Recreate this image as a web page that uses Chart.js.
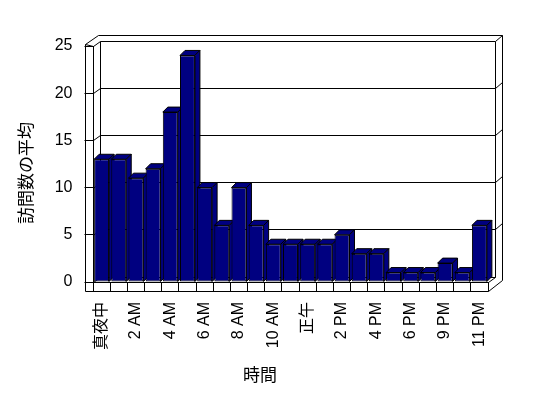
<!DOCTYPE html>
<html><head><meta charset="utf-8">
<script src="https://cdn.jsdelivr.net/npm/chart.js@4/dist/chart.umd.min.js"></script>
<style>html,body{margin:0;padding:0;background:#fff}canvas{display:block}</style>
</head><body>
<canvas id="c" width="548" height="398"></canvas>
<script>
const hours = ['真夜中','1 AM','2 AM','3 AM','4 AM','5 AM','6 AM','7 AM','8 AM','9 AM','10 AM','11 AM','正午','1 PM','2 PM','3 PM','4 PM','5 PM','6 PM','7 PM','9 PM','10 PM','11 PM'];
const visits = [13,13,11,12,18,24,10,6,10,6,4,4,4,4,5,3,3,1,1,1,2,1,6];
const yTicks = [0,5,10,15,20,25];
const xTitle = '時間';
const yTitle = '訪問数の平均';

const FONT = '"Liberation Sans", "Noto Sans CJK JP", sans-serif';
const NAVY = '#000080';

const frame3d = {
  id: 'frame3d',
  beforeDatasetsDraw(chart) {
    const ctx = chart.ctx, ys = chart.scales.y, a = chart.chartArea;
    const L = a.left, R = a.right;
    const B = ys.getPixelForValue(yTicks[0]);
    const T = ys.getPixelForValue(yTicks[yTicks.length - 1]);
    const d1x = 6.5, d1y = -5.5, d2x = 13.5, d2y = -11.5, W = 8.5, F = 9;
    const p = v => Math.round(v) + 0.5;
    ctx.save();
    ctx.strokeStyle = '#000'; ctx.lineWidth = 1;
    const line = (x1, y1, x2, y2) => { ctx.beginPath(); ctx.moveTo(p(x1), p(y1)); ctx.lineTo(p(x2), p(y2)); ctx.stroke(); };
    // left wall
    line(L - W, T - 2, L - W, B + F);
    line(L - W, T - 2, L, T);
    line(L - W, T - 2, L - W + d2x, T + d2y);
    line(L, T, L + d1x, T + d1y);
    // back wall
    line(L - W + d2x, T + d2y, R + d2x, T + d2y);
    line(L + d1x, T + d1y, R + d1x, T + d1y);
    line(L + d1x, T + d1y, L + d1x, B + d1y);
    line(R + d1x, T + d1y, R + d1x, B + d1y);
    line(R + d2x, T + d2y, R + d2x, B + F + d2y);
    line(R + d1x, T + d1y, R + d2x, T + d2y);
    // floor
    line(L - W, B + F, R, B + F);
    line(R, B, R, B + F);
    line(R, B, R + d1x, B + d1y);
    line(R, B + F, R + d2x, B + F + d2y);
    line(L + d1x, B + d1y, R + d1x, B + d1y);
    line(L, B, L + d1x, B + d1y);
    // gridlines on back wall
    yTicks.slice(1, -1).forEach(v => {
      const y = ys.getPixelForValue(v);
      line(L, y, L + d1x, y + d1y);
      line(L + d1x, y + d1y, R + d1x, y + d1y);
      line(R + d1x, y + d1y, R + d2x, y + d2y);
    });
    // bar tops and sides
    const dx = 5, dy = 5;
    ctx.fillStyle = NAVY;
    chart.getDatasetMeta(0).data.forEach(bar => {
      const { x, y, base, width } = bar.getProps(['x', 'y', 'base', 'width'], true);
      const l = x - width / 2, r = x + width / 2;
      ctx.beginPath();
      ctx.moveTo(l, y); ctx.lineTo(r, y); ctx.lineTo(r + dx, y - dy); ctx.lineTo(l + dx, y - dy); ctx.closePath();
      ctx.fill(); ctx.stroke();
      ctx.beginPath();
      ctx.moveTo(r, y); ctx.lineTo(r + dx, y - dy); ctx.lineTo(r + dx, base - dy); ctx.lineTo(r, base); ctx.closePath();
      ctx.fill(); ctx.stroke();
    });
    ctx.restore();
  },
  afterDraw(chart) {
    const ctx = chart.ctx;
    ctx.save();
    ctx.fillStyle = '#000';
    ctx.font = '17px "Noto Sans CJK JP", sans-serif';
    ctx.textAlign = 'center'; ctx.textBaseline = 'middle';
    ctx.fillText(xTitle, 260, 375);
    ctx.translate(26, 173);
    ctx.rotate(-Math.PI / 2);
    ctx.fillText(yTitle, 0, 0);
    ctx.restore();
  }
};

new Chart(document.getElementById('c'), {
  type: 'bar',
  data: {
    labels: hours,
    datasets: [{
      data: visits,
      backgroundColor: NAVY,
      borderColor: '#000',
      borderWidth: 1,
      borderSkipped: false,
      inflateAmount: 0,
      barPercentage: 0.87,
      categoryPercentage: 1
    }]
  },
  options: {
    responsive: false,
    animation: false,
    devicePixelRatio: 1,
    layout: { padding: { top: 46, right: 60, bottom: 0, left: 0 } },
    plugins: { legend: { display: false }, tooltip: { enabled: false } },
    scales: {
      x: {
        grid: { offset: true, drawOnChartArea: false, drawTicks: true, tickLength: 9, color: '#000' },
        border: { display: true, color: '#000' },
        ticks: {
          autoSkip: false, maxRotation: 90, minRotation: 90, padding: 11,
          color: '#000', font: { family: FONT, size: 16 },
          callback: function (v, i) { return i % 2 === 0 ? hours[i] : ''; }
        },
        afterFit: s => { s.height = 116; }
      },
      y: {
        min: yTicks[0], max: yTicks[yTicks.length - 1],
        grid: { drawOnChartArea: false, drawTicks: true, tickLength: 8.5, color: '#000' },
        border: { display: true, color: '#000' },
        ticks: { stepSize: 5, padding: 12, color: '#000', font: { family: FONT, size: 16 } },
        afterFit: s => { s.width = 93; }
      }
    }
  },
  plugins: [frame3d]
});
</script>
</body></html>
